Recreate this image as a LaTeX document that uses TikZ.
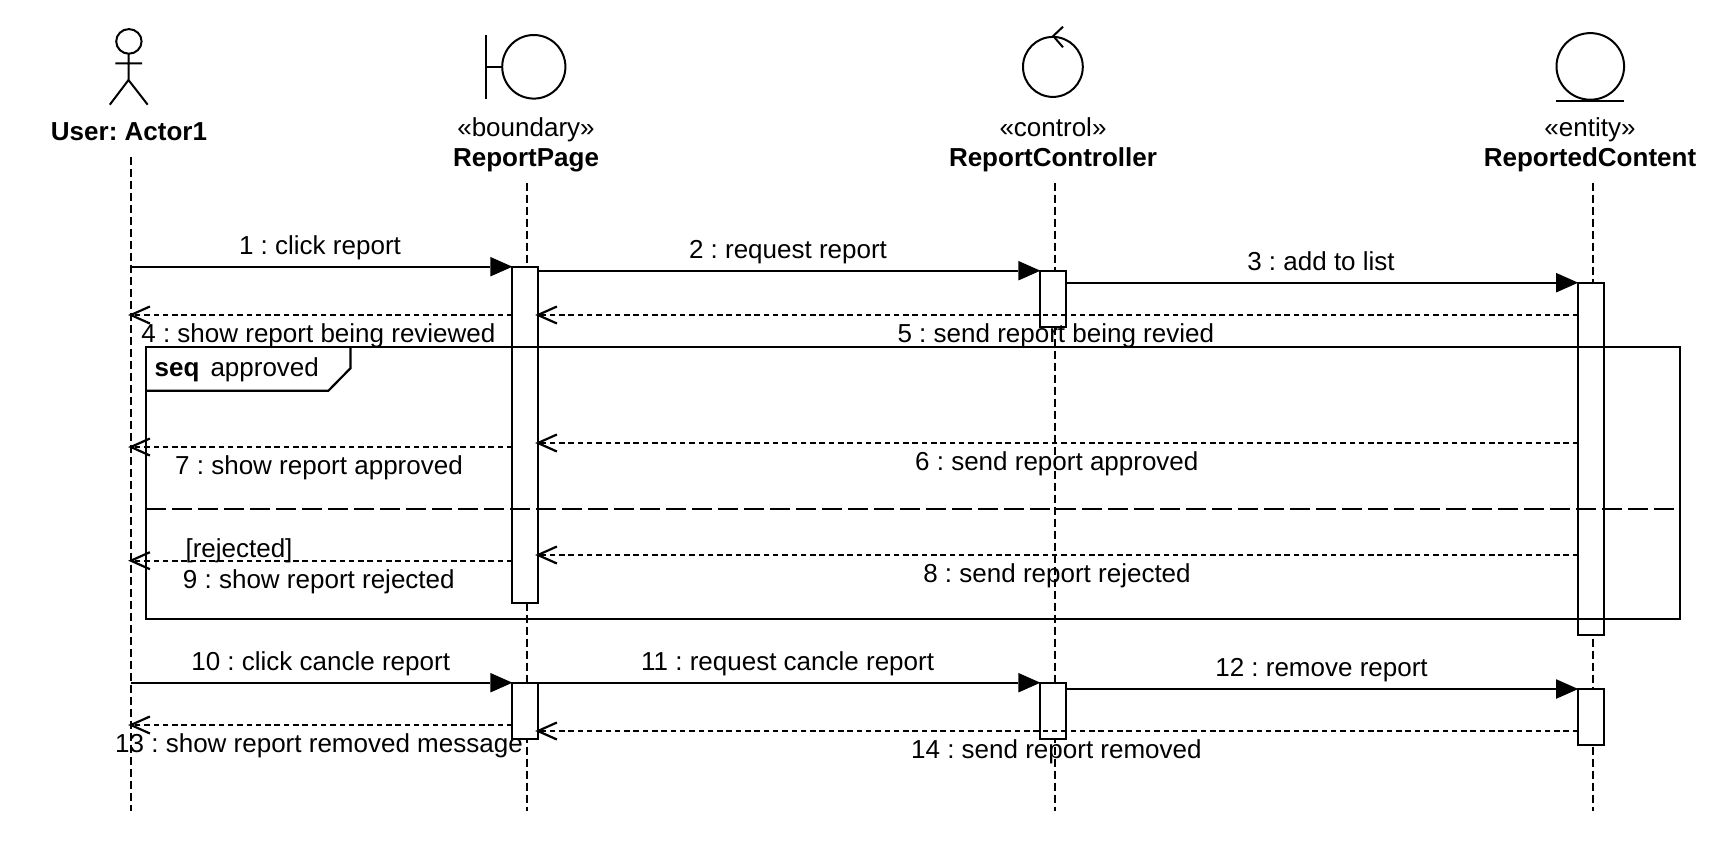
\documentclass[tikz,border=0pt]{standalone}
\usepackage{fontspec}
\setmainfont{Liberation Sans}
\usetikzlibrary{arrows.meta,calc}
\frenchspacing
\tikzset{
  every node/.style={inner sep=0pt,outer sep=0pt},
  shape line/.style={draw=black,line width=2pt},
  lifeline/.style={draw=black,line width=2pt,dash pattern=on 8pt off 4pt},
  actbox/.style={draw=black,fill=white,line width=2pt,anchor=north west,minimum width=25.8pt},
  call/.style={draw=black,line width=2.2pt,-{Triangle[length=22pt,width=19.5pt,line width=0pt]}},
  ret/.style={draw=black,line width=2.2pt,dash pattern=on 5.5pt off 3.8pt,shorten >=-3pt,-{Straight Barb[length=19pt,width=17pt,line width=2.2pt]}},
  lbl/.style={anchor=base,yshift=-1pt,font=\fontsize{26}{30}\selectfont},
  head/.style={anchor=base,yshift=-1pt,font=\fontsize{26}{30}\selectfont\bfseries},
  fragline/.style={draw=black,line width=2.2pt},
  altline/.style={draw=black,line width=2.2pt,dash pattern=on 20pt off 6pt}
}
\begin{document}
\begin{tikzpicture}[x=1pt,y=-1pt]
\useasboundingbox[fill=white] (0,0) rectangle (1722,865);
% lifeline ends
\coordinate (l1t) at (131.2,156.7); \coordinate (l1b) at (131.2,811);
\coordinate (l2t) at (527.2,182.7); \coordinate (l2b) at (527.2,811);
\coordinate (l3t) at (1054.8,182.7); \coordinate (l3b) at (1054.8,811);
\coordinate (l4t) at (1593,182.7); \coordinate (l4b) at (1593,811);
\draw[lifeline] (l1t) -- (l1b);
\draw[lifeline] (l2t) -- (l2b);
\draw[lifeline] (l3t) -- (l3b);
\draw[lifeline] (l4t) -- (l4b);
% actor
\draw[shape line] (128.9,41.4) ellipse (12.7 and 12.3);
\draw[shape line] (128.5,53.8) -- (128.5,80) (115.3,63.3) -- (142.2,63.3)
  (109.8,104.7) -- (128.5,80) -- (147.7,104.7);
\node[head] (actor) at (129,139.5) {User: Actor1};
% boundary
\draw[shape line] (533.8,66.8) ellipse (31.6 and 31.8);
\draw[shape line] (486,35) -- (486,98.7) (486,66.7) -- (502,66.7);
\node[lbl] (bst) at (526,135.7) {«boundary»};
\node[head] (bnd) at (526,165.7) {ReportPage};
% control
\draw[shape line] (1052.9,66.9) ellipse (29.9 and 30);
\draw[shape line] (1063,26.7) -- (1053.2,36) -- (1063,47.3);
\node[lbl] (cst) at (1053,135.7) {«control»};
\node[head] (ctl) at (1053,165.7) {ReportController};
% entity
\draw[shape line] (1590.3,66.4) ellipse (33.8 and 33.3);
\draw[shape line] (1556,100.5) -- (1624.3,100.5);
\node[lbl] (est) at (1590,135.7) {«entity»};
\node[head] (ent) at (1590,165.7) {ReportedContent};
% activations
\node[actbox,minimum height=336.6pt] (a1) at (512.4,266.7) {};
\node[actbox,minimum height=56pt] (a2) at (1040.4,270.7) {};
\node[actbox,minimum height=352pt] (a3) at (1578.2,282.7) {};
\node[actbox,minimum height=56pt] (b1) at (512.4,682.7) {};
\node[actbox,minimum height=56pt] (b2) at (1040.4,682.7) {};
\node[actbox,minimum height=56pt] (b3) at (1578.2,689) {};
% message heights
\coordinate (y4) at (0,315);
\coordinate (y6) at (0,443);
\coordinate (y7) at (0,447);
\coordinate (y8) at (0,555);
\coordinate (y9) at (0,560.7);
\coordinate (y13) at (0,725);
\coordinate (y14) at (0,731);
% fragment
\coordinate (f1) at (146,346.7); \coordinate (f2) at (1680.3,619);
\coordinate (d1) at (146,509); \coordinate (d2) at (1673.7,509);
\draw[fragline] (f1) rectangle (f2);
\draw[fragline] (350.4,346.7) -- (350.4,368.3) -- (328.4,390.7) -- (146,390.7);
\draw[altline] (d1) -- (d2);
\node[head,anchor=base west] (seq) at (154.6,375.7) {seq};
\node[lbl,anchor=base west] (appr) at (210.5,375.7) {approved};
% messages
\draw[call] (l1t |- a1.north) -- (a1.north west);
\draw[call] (a1.east |- a2.north) -- (a2.north west);
\draw[call] (a2.east |- a3.north) -- (a3.north west);
\draw[ret] (a1.west |- y4) -- (l1t |- y4);
\draw[ret] (a3.west |- y4) -- (a1.east |- y4);
\draw[ret] (a3.west |- y6) -- (a1.east |- y6);
\draw[ret] (a1.west |- y7) -- (l1t |- y7);
\draw[ret] (a3.west |- y8) -- (a1.east |- y8);
\draw[ret] (a1.west |- y9) -- (l1t |- y9);
\draw[call] (l1t |- b1.north) -- (b1.north west);
\draw[call] (b1.north east) -- (b2.north west);
\draw[call] (b2.east |- b3.north) -- (b3.north west);
\draw[ret] (b1.west |- y13) -- (l1t |- y13);
\draw[ret] (b3.west |- y14) -- (b1.east |- y14);
% labels
\node[lbl] (t1) at (320,253) {1 : click report};
\node[lbl] (t2) at (788,257) {2 : request report};
\node[lbl] (t3) at (1321,269.3) {3 : add to list};
\node[lbl] (t4) at (318.4,341.7) {4 : show report being reviewed};
\node[lbl] (t5) at (1055.8,341.7) {5 : send report being revied};
\node[lbl] (t6) at (1056.8,469.3) {6 : send report approved};
\node[lbl] (t7) at (319,473.7) {7 : show report approved};
\node[lbl] (tr) at (239,556.3) {[rejected]};
\node[lbl] (t8) at (1057,581.3) {8 : send report rejected};
\node[lbl] (t9) at (318.8,587.3) {9 : show report rejected};
\node[lbl] (t10) at (320.7,669) {10 : click cancle report};
\node[lbl] (t11) at (787.6,669) {11 : request cancle report};
\node[lbl] (t12) at (1321.5,675.7) {12 : remove report};
\node[lbl] (t13) at (319,751.3) {13 : show report removed message};
\node[lbl] (t14) at (1056.4,757) {14 : send report removed};
\end{tikzpicture}
\end{document}
